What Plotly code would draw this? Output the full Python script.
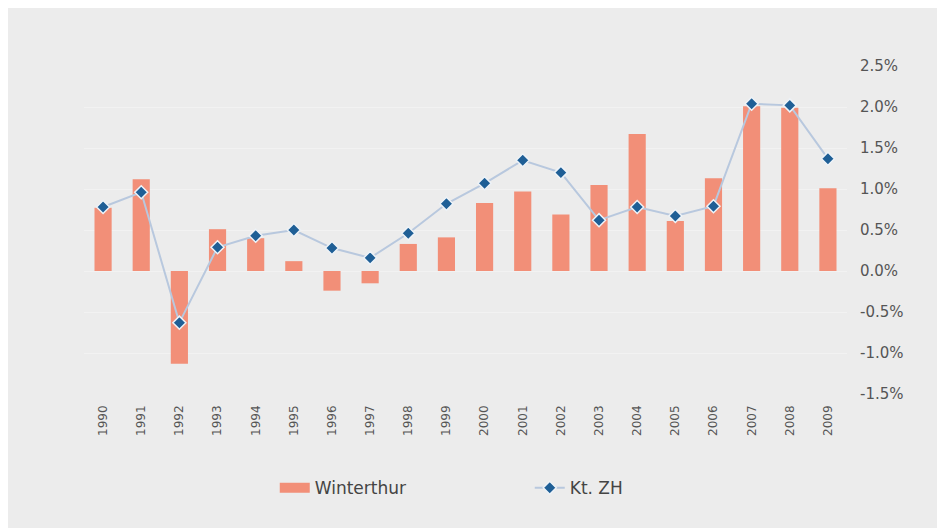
import plotly.graph_objects as go

years = [str(y) for y in range(1990, 2010)]
winterthur = [0.77, 1.12, -1.13, 0.51, 0.40, 0.12, -0.24, -0.15, 0.33, 0.41,
              0.83, 0.97, 0.69, 1.05, 1.67, 0.61, 1.13, 2.01, 1.99, 1.01]
kt_zh = [0.78, 0.96, -0.63, 0.29, 0.43, 0.50, 0.28, 0.16, 0.46, 0.82,
         1.07, 1.35, 1.20, 0.62, 0.78, 0.67, 0.79, 2.04, 2.02, 1.37]
y_ticks = [-1.5, -1.0, -0.5, 0.0, 0.5, 1.0, 1.5, 2.0, 2.5]
y_labels = ["-1.5%", "-1.0%", "-0.5%", "0.0%", "0.5%", "1.0%", "1.5%", "2.0%", "2.5%"]

BAR_COLOR = "#f28f78"

fig = go.Figure()
fig.add_trace(go.Bar(
    x=years, y=winterthur, name="Winterthur",
    marker=dict(color=BAR_COLOR, line=dict(width=0)),
    width=0.45, showlegend=False,
))
# legend-only entry giving the wide rectangular swatch
fig.add_trace(go.Scatter(
    x=[None], y=[None], name="Winterthur", mode="lines",
    line=dict(color=BAR_COLOR, width=10), showlegend=True,
))
fig.add_trace(go.Scatter(
    x=years, y=kt_zh, name="Kt. ZH", mode="lines+markers",
    line=dict(color="#b8c8de", width=2),
    marker=dict(symbol="diamond", size=10, color="#1f5f96",
                line=dict(color="#eef3f8", width=1.5)),
))

fig.update_layout(
    width=945, height=528,
    paper_bgcolor="#ececec", plot_bgcolor="#ececec",
    margin=dict(l=76, r=106, t=58, b=142),
    font=dict(family="DejaVu Sans, Liberation Sans, sans-serif", color="#555555"),
    showlegend=True,
    legend=dict(orientation="h", x=0.250, xanchor="left", y=-0.287, yanchor="middle",
                font=dict(size=17, color="#444444"),
                entrywidth=210, entrywidthmode="pixels",
                traceorder="normal", bgcolor="rgba(0,0,0,0)"),
    xaxis=dict(type="category", tickangle=-90, tickfont=dict(size=12, color="#555555"),
               showgrid=False, zeroline=False, showline=False, ticks="",
               range=[-0.5, 19.5], ticklabelstandoff=8),
    yaxis=dict(side="right", range=[-1.5, 2.5], tickvals=y_ticks, ticktext=y_labels,
               tickfont=dict(size=15, color="#555555"), showgrid=True,
               gridcolor="#f2f2f2", gridwidth=1, zeroline=False, showline=False,
               ticks="", ticklabelstandoff=12),
)

fig.write_html("out.html")
